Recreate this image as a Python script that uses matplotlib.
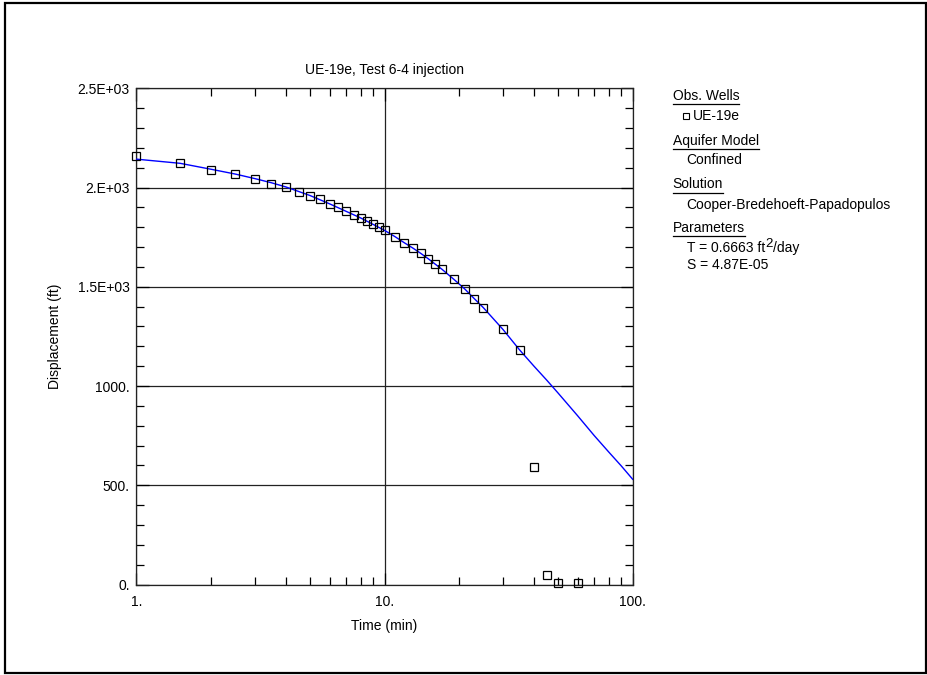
import matplotlib
matplotlib.use("Agg")
import matplotlib.pyplot as plt
from matplotlib.ticker import FixedLocator, NullFormatter
from matplotlib.lines import Line2D
from matplotlib.patches import Rectangle

plt.rcParams['font.family'] = ['Liberation Sans', 'DejaVu Sans']

# Observed data (UE-19e)
obs_time = [1, 1.5, 2, 2.5, 3, 3.5, 4, 4.5, 5, 5.5, 6, 6.5, 7, 7.5, 8, 8.5, 9, 9.5, 10,
            11, 12, 13, 14, 15, 16, 17, 19, 21, 23, 25, 30, 35, 40, 45, 50, 60]
obs_disp = [2157, 2125, 2090, 2070, 2045, 2020, 2003, 1979, 1959, 1941, 1919, 1900, 1882, 1863,
            1848, 1833, 1815, 1799, 1786,
            1753, 1722, 1697, 1670, 1642, 1616, 1591, 1539, 1490, 1438, 1395, 1285, 1181,
            593, 50, 6, 6]

# Fitted Cooper-Bredehoeft-Papadopulos curve
fit_time = [1, 1.5, 2, 2.5, 3, 3.5, 4, 5, 6, 7, 8, 9, 10, 11, 12, 13, 14, 15, 16, 17, 19,
            21, 23, 25, 30, 35, 40, 45, 50, 60, 70, 80, 90, 100]
fit_disp = [2143, 2122, 2092, 2068, 2045, 2024, 2003, 1960, 1918, 1880, 1847, 1814, 1784,
            1753, 1722, 1695, 1668, 1641, 1614, 1589, 1538, 1490, 1440, 1395, 1285, 1182,
            1100, 1030, 965, 850, 750, 668, 597, 530]

x_ticks = [1, 10, 100]
x_labels = ["1.", "10.", "100."]
y_ticks = [0, 500, 1000, 1500, 2000, 2500]
y_labels = ["0.", "500.", "1000.", "1.5E+03", "2.E+03", "2.5E+03"]

W, H = 928, 675
fig = plt.figure(figsize=(W / 100, H / 100), dpi=100)

# outer frame
fig.patches.append(Rectangle((4.5 / W, 2.5 / H), (926 - 4.5) / W, (672.5 - 2.5) / H,
                             transform=fig.transFigure, fill=False, lw=1.6,
                             edgecolor='black'))

ax_l, ax_r, ax_t, ax_b = 136.5, 632.7, 88.3, 584.5
ax = fig.add_axes([ax_l / W, 1 - ax_b / H, (ax_r - ax_l) / W, (ax_b - ax_t) / H])

ax.set_xscale('log')
ax.set_xlim(1, 100)
ax.set_ylim(0, 2500)

ax.plot(fit_time, fit_disp, color='#0000ff', lw=1.0, zorder=3)
ax.plot(obs_time, obs_disp, linestyle='none', marker='s', ms=6, mfc='none',
        mec='black', mew=0.9, zorder=4, clip_on=False)

ax.xaxis.set_major_locator(FixedLocator(x_ticks))
ax.set_xticklabels(x_labels)
ax.xaxis.set_minor_locator(FixedLocator([v * d for d in (1, 10) for v in range(2, 10)]))
ax.xaxis.set_minor_formatter(NullFormatter())
ax.yaxis.set_major_locator(FixedLocator(y_ticks))
ax.set_yticklabels(y_labels)
ax.yaxis.set_minor_locator(FixedLocator([v for v in range(100, 2500, 100) if v % 500]))

fs = 10
ax.tick_params(which='both', direction='in', top=True, right=True, labelsize=fs,
               color='black', width=0.9)
ax.tick_params(which='major', length=9)
ax.tick_params(which='minor', length=6)
ax.tick_params(axis='y', which='major', pad=5)
ax.tick_params(axis='x', which='major', pad=7.5)

ax.grid(True, which='major', color='#222222', lw=0.9)
for s in ax.spines.values():
    s.set_linewidth(0.9)
    s.set_color('#222222')

ax.set_title("UE-19e, Test 6-4 injection", fontsize=fs, pad=10)
ax.set_xlabel("Time (min)", fontsize=fs, labelpad=7)
ax.set_ylabel("Displacement (ft)", fontsize=fs, labelpad=11)

# Legend / info panel
def fy(py):
    return 1 - py / H

renderer = fig.canvas.get_renderer()

def width_px(t):
    return t.get_window_extent(renderer=renderer).width

def header(px, py, txt):
    t = fig.text(px / W, fy(py), txt, fontsize=fs, ha='left', va='center')
    w = width_px(t)
    uy = py + 8.3
    fig.lines.append(Line2D([px / W, (px + w) / W], [fy(uy), fy(uy)],
                            transform=fig.transFigure, color='black', lw=0.9))

header(672.7, 95.7, "Obs. Wells")
fig.lines.append(Line2D([686.3 / W], [fy(115.7)], transform=fig.transFigure, marker='s',
                        ms=4.3, mfc='none', mec='black', mew=0.8, linestyle='none'))
fig.text(692.5 / W, fy(115.7), "UE-19e", fontsize=fs, ha='left', va='center')
header(672.7, 141, "Aquifer Model")
fig.text(686.7 / W, fy(160), "Confined", fontsize=fs, ha='left', va='center')
header(672.7, 184.3, "Solution")
fig.text(686.7 / W, fy(205), "Cooper-Bredehoeft-Papadopulos", fontsize=fs, ha='left', va='center')
header(672.7, 227.7, "Parameters")

t1 = fig.text(686.7 / W, fy(247.7), "T = 0.6663 ft", fontsize=fs, ha='left', va='center')
x2 = 686.7 + width_px(t1) + 0.5
t2 = fig.text(x2 / W, fy(244.0), "2", fontsize=fs * 0.95, ha='left', va='center')
x3 = x2 + width_px(t2)
fig.text(x3 / W, fy(247.7), "/day", fontsize=fs, ha='left', va='center')
fig.text(686.7 / W, fy(265), "S = 4.87E-05", fontsize=fs, ha='left', va='center')

fig.savefig("out.png", dpi=100)
